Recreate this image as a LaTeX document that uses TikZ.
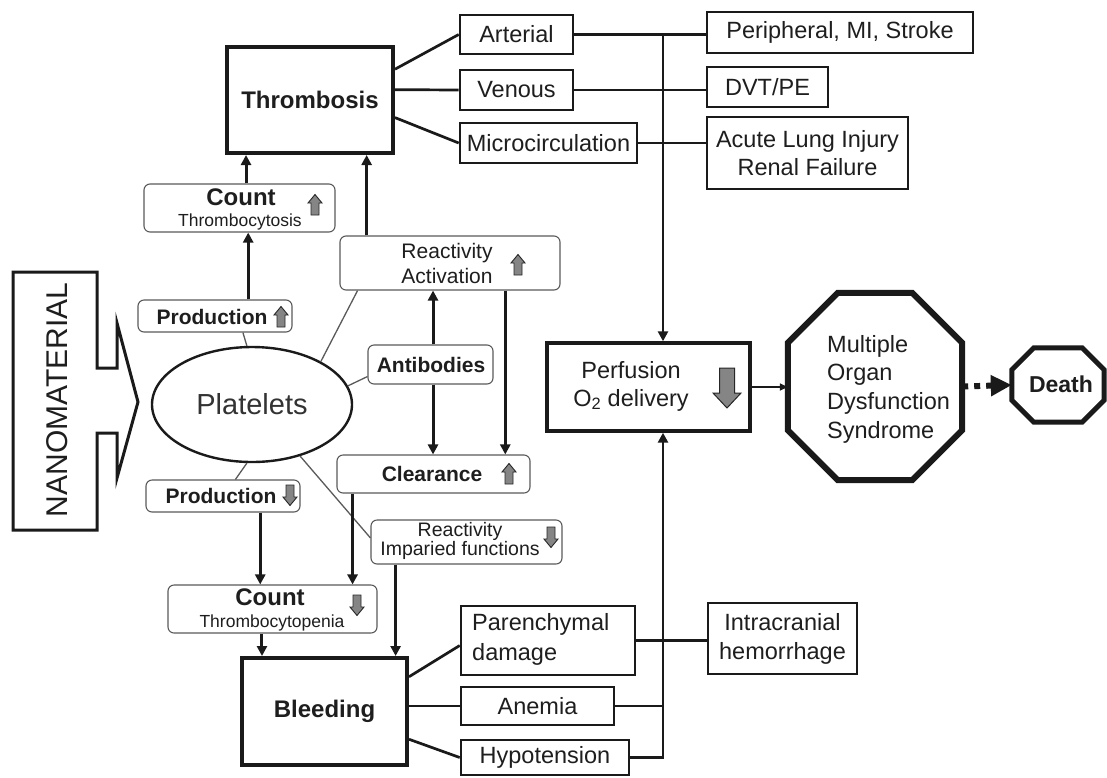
\documentclass[tikz,border=0pt]{standalone}
\usepackage{fontspec}
\setmainfont{Liberation Sans}
\usetikzlibrary{shapes.geometric,arrows.meta,calc}
\definecolor{txt}{HTML}{1E1E1E}
\definecolor{ptxt}{HTML}{333333}
\definecolor{ln}{HTML}{1A1A1A}
\definecolor{rb}{HTML}{5A5A5A}
\definecolor{gfill}{HTML}{858585}
\newcommand\fsz[2]{\fontsize{#1}{#2}\selectfont}
\tikzset{
 box/.style={draw=ln,line width=2.6pt,inner sep=0pt,text=txt,font=\fsz{23.5}{28},align=center},
 bigbox/.style={box,line width=4pt,font=\bfseries\fsz{24}{28}},
 rbox/.style={draw=rb,line width=1.1pt,rounded corners=6pt,inner sep=0pt},
 lbl/.style={inner sep=0pt,text=txt,align=center},
 arr/.style={draw=ln,line width=3pt,-{Triangle[length=10pt,width=10pt]}},
 thinln/.style={draw=rb,line width=1.3pt},
 conn/.style={draw=ln,line width=2.7pt},
 gup/.pic={\filldraw[fill=gfill,draw=black!85,line width=0.9pt] (0,-10.5)--(7,-2)--(4,-2)--(4,10)--(-4,10)--(-4,-2)--(-7,-2)--cycle;},
 gdown/.pic={\filldraw[fill=gfill,draw=black!85,line width=0.9pt] (0,10.5)--(7,2)--(4,2)--(4,-10)--(-4,-10)--(-4,2)--(-7,2)--cycle;},
 gbigdown/.pic={\filldraw[fill=gfill,draw=black!85,line width=1pt] (0,20)--(14,5)--(7.5,5)--(7.5,-20)--(-7.5,-20)--(-7.5,5)--(-14,5)--cycle;},
}
\begin{document}
\begin{tikzpicture}[x=1pt,y=-1pt]
\fill[white] (0,0) rectangle (1107,777);
\useasboundingbox (0,0) rectangle (1107,777);
% NANOMATERIAL block arrow
\draw[draw=ln,line width=3pt,line join=miter] (13,272) -- (97,272) -- (97,368) -- (117,368) -- (117,323) -- (138,402) -- (117,478) -- (117,433) -- (97,433) -- (97,530) -- (13,530) -- cycle;
\node[lbl,rotate=90,font=\fsz{30}{30}] (nano) at (57,400) {NANOMATERIAL};
% Platelets
\node[ellipse,draw=ln,line width=2.4pt,minimum width=200pt,minimum height=115pt,inner sep=0pt,text=ptxt,font=\fsz{29}{30}] (plat) at (252,404.5) {Platelets};
% Thrombosis / Bleeding
\node[bigbox,minimum width=166pt,minimum height=106pt] (thromb) at (310,100) {Thrombosis};
\node[bigbox,minimum width=165pt,minimum height=107pt] (bleed) at (324.5,711.5) {Bleeding};
% rounded boxes
\node[rbox,minimum width=191pt,minimum height=48pt] (cntup) at (239.5,208) {};
\node[lbl,font=\bfseries\fsz{24}{24}] (cntupa) at (241,197) {Count};
\node[lbl,font=\fsz{17.5}{18}] (cntupb) at (240,222) {Thrombocytosis};
\pic at (315,205) {gup};
\node[rbox,minimum width=154pt,minimum height=32pt] (produp) at (215,316) {};
\node[lbl,font=\bfseries\fsz{21}{21}] (produpt) at (212,317) {Production};
\pic at (281,317) {gup};
\node[rbox,minimum width=154pt,minimum height=32pt] (proddn) at (223,496) {};
\node[lbl,font=\bfseries\fsz{21}{21}] (proddnt) at (221,496) {Production};
\pic at (290,495) {gdown};
\node[rbox,minimum width=209pt,minimum height=48pt] (cntdn) at (272.5,609) {};
\node[lbl,font=\bfseries\fsz{24}{24}] (cntdna) at (270,597) {Count};
\node[lbl,font=\fsz{17.5}{18}] (cntdnb) at (272,623) {Thrombocytopenia};
\pic at (357,605) {gdown};
\node[rbox,minimum width=220pt,minimum height=54pt] (react) at (450,263) {};
\node[lbl,font=\fsz{21}{25}] (reactt) at (447,263) {Reactivity\\Activation};
\pic at (518,265) {gup};
\node[rbox,minimum width=125pt,minimum height=39pt] (antib) at (430.5,364.5) {};
\node[lbl,font=\bfseries\fsz{21}{21}] (antibt) at (431,365) {Antibodies};
\node[rbox,minimum width=193pt,minimum height=38pt] (clear) at (433.5,474) {};
\node[lbl,font=\bfseries\fsz{21}{21}] (cleart) at (432,474) {Clearance};
\pic at (509,474) {gup};
\node[rbox,minimum width=191pt,minimum height=44pt] (reactimp) at (466.5,542) {};
\node[lbl,font=\fsz{19.5}{17}] (reactimpt) at (460,541) {Reactivity\\Imparied functions};
\pic at (551,537) {gdown};
% right boxes
\node[box,minimum width=113pt,minimum height=39pt] (arterial) at (516.5,34.5) {Arterial};
\node[box,minimum width=113pt,minimum height=40pt] (venous) at (516.5,90) {Venous};
\node[box,minimum width=177pt,minimum height=40pt] (micro) at (548.5,143) {Microcirculation};
\node[box,minimum width=266pt,minimum height=41pt] (periph) at (840,32.5) {Peripheral, MI, Stroke};
\node[box,minimum width=121pt,minimum height=40pt] (dvt) at (767.5,87) {DVT/PE};
\node[box,minimum width=201pt,minimum height=72pt] (acute) at (807.5,153) {Acute Lung Injury\\Renal Failure};
\node[box,minimum width=174pt,minimum height=69pt] (parench) at (548,640.5) {};
\node[lbl,align=left,anchor=west,font=\fsz{23.5}{30}] (parencht) at (472,639) {Parenchymal\\damage};
\node[box,minimum width=153pt,minimum height=38pt] (anemia) at (537.5,706) {Anemia};
\node[box,minimum width=168pt,minimum height=35pt] (hypo) at (545,757.5) {Hypotension};
\node[box,minimum width=149pt,minimum height=71pt,font=\fsz{23.5}{29}] (intra) at (782.5,638.5) {Intracranial\\hemorrhage};
% perfusion
\node[box,line width=3.4pt,minimum width=203pt,minimum height=88pt] (perf) at (648.5,387) {};
\node[lbl,font=\fsz{23.5}{28}] (perft) at (631,386) {Perfusion\\O\textsubscript{2} delivery};
\pic at (727,388) {gbigdown};
% MODS octagon
\node[minimum width=174pt,minimum height=187pt,inner sep=0pt] (mods) at (875,386.5) {};
\draw[draw=ln,line width=6pt,line join=miter] ($(mods.north west)+(50,0)$) -- ($(mods.north east)+(-50,0)$) -- ($(mods.north east)+(0,50)$) -- ($(mods.south east)+(0,-50)$) -- ($(mods.south east)+(-50,0)$) -- ($(mods.south west)+(50,0)$) -- ($(mods.south west)+(0,-50)$) -- ($(mods.north west)+(0,50)$) -- cycle;
\node[lbl,align=left,anchor=west,font=\fsz{23.5}{28.7}] (modst) at (827,389) {Multiple\\Organ\\Dysfunction\\Syndrome};
% Death octagon
\node[minimum width=92pt,minimum height=74pt,inner sep=0pt] (death) at (1058,385) {};
\draw[draw=ln,line width=5pt,line join=miter] ($(death.north west)+(22,0)$) -- ($(death.north east)+(-22,0)$) -- ($(death.north east)+(0,22)$) -- ($(death.south east)+(0,-22)$) -- ($(death.south east)+(-22,0)$) -- ($(death.south west)+(22,0)$) -- ($(death.south west)+(0,-22)$) -- ($(death.north west)+(0,22)$) -- cycle;
\node[lbl,font=\bfseries\fsz{23}{23}] (deatht) at (1061,384) {Death};
% thin lines from platelets
\draw[thinln] (plat.95) -- ($(produp.south west)!0.68!(produp.south east)$);
\draw[thinln] (plat.-95) -- ($(proddn.north west)!0.58!(proddn.north east)$);
\draw[thinln] (plat.32) -- ($(react.south west)!0.082!(react.south east)$);
\draw[thinln] (plat.11) -- ($(antib.south west)!0.2!(antib.north west)$);
\draw[thinln] (plat.-47) -- ($(reactimp.north west)!0.41!(reactimp.south west)$);
% thick arrows
\path ($(cntup.north west)!0.534!(cntup.north east)$) coordinate (a1);
\draw[arr] (a1) -- (a1 |- thromb.south);
\path ($(produp.north west)!0.714!(produp.north east)$) coordinate (a2);
\draw[arr] (a2) -- (a2 |- cntup.south);
\path ($(react.north west)!0.123!(react.north east)$) coordinate (a3);
\draw[arr] (a3) -- (a3 |- thromb.south);
\path ($(antib.north west)!0.52!(antib.north east)$) coordinate (a4);
\draw[arr] (a4) -- (a4 |- react.south);
\path ($(antib.south west)!0.52!(antib.south east)$) coordinate (a5);
\draw[arr] (a5) -- (a5 |- clear.north);
\path ($(react.south west)!0.75!(react.south east)$) coordinate (a6);
\draw[arr] (a6) -- (a6 |- clear.north);
\path ($(proddn.south west)!0.74!(proddn.south east)$) coordinate (a7);
\draw[arr] (a7) -- (a7 |- cntdn.north);
\path ($(clear.south west)!0.083!(clear.south east)$) coordinate (a8);
\draw[arr] (a8) -- (a8 |- cntdn.north);
\path ($(reactimp.south west)!0.131!(reactimp.south east)$) coordinate (a9);
\draw[arr] (a9) -- (a9 |- bleed.north);
\path ($(cntdn.south west)!0.45!(cntdn.south east)$) coordinate (a10);
\draw[arr] (a10) -- (a10 |- bleed.north);
% thrombosis branches
\draw[conn] ($(thromb.north east)!0.22!(thromb.south east)$) -- (arterial.west);
\draw[conn] ($(thromb.north east)!0.406!(thromb.south east)$) -- (venous.west);
\draw[conn] ($(thromb.north east)!0.66!(thromb.south east)$) -- (micro.west);
% bleeding branches
\draw[conn] ($(bleed.north east)!0.187!(bleed.south east)$) -- ($(parench.north west)!0.57!(parench.south west)$);
\draw[conn] (anemia.west -| bleed.east) -- (anemia.west);
\draw[conn] ($(bleed.north east)!0.75!(bleed.south east)$) -- (hypo.west);
% bus
\coordinate (bus) at (663,0);
\draw[conn] (arterial.east) -- (arterial.east -| periph.west);
\draw[conn] (venous.east) -- (venous.east -| dvt.west);
\draw[conn] (micro.east) -- (micro.east -| acute.west);
\draw[arr,line width=2.7pt] (arterial.east -| bus) -- (perf.north -| bus);
\draw[conn] (parench.east) -- (parench.east -| intra.west);
\draw[conn] (anemia.east) -- (anemia.east -| bus);
\draw[arr,line width=2.7pt] (hypo.east) -| (perf.south -| bus);
% to MODS and death
\draw[draw=ln,line width=1.6pt,-{Triangle[length=8pt,width=7pt]}] (perf.east) -- (perf.east -| mods.west);
\draw[draw=ln,line width=6pt,dash pattern=on 6pt off 6pt,-{Triangle[length=21pt,width=20pt]}] (mods.east) -- (death.west);
\end{tikzpicture}
\end{document}
